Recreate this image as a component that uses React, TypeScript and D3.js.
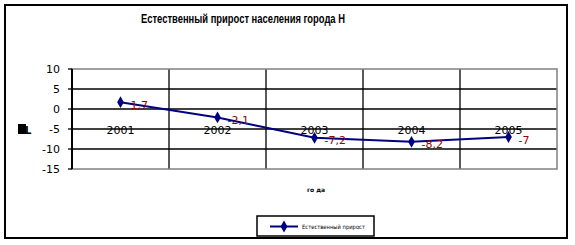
import React from "react";
import * as d3 from "d3";

const categories = ["2001", "2002", "2003", "2004", "2005"];
const values = [1.7, -2.1, -7.2, -8.2, -7];
const valueLabels = ["1,7", "-2,1", "-7,2", "-8,2", "-7"];
const yTicks = [10, 5, 0, -5, -10, -15];
const title = "Естественный прирост населения города Н";
const xTitle = "го да";
const seriesName = "Естественный прирост";

export default function App() {
  const W = 575, H = 245;
  const left = 72, right = 557, top = 69, bottom = 169;
  const x = d3.scaleBand<string>().domain(categories).range([left, right]).padding(0);
  const y = d3.scaleLinear().domain([-15, 10]).range([bottom, top]);
  const cx = (c: string) => (x(c) as number) + x.bandwidth() / 2;
  const line = d3
    .line<number>()
    .x((_, i) => cx(categories[i]))
    .y((v) => y(v));
  const diamond = d3.symbol().type(d3.symbolDiamond).size(40)();
  const font = "'DejaVu Sans', sans-serif";
  return (
    <svg
      width={W}
      height={H}
      style={{ position: "absolute", left: 0, top: 0, background: "#fff" }}
    >
      <rect x={0} y={0} width={W} height={H} fill="#fff" />
      <rect x={5} y={5} width={562} height={233} fill="none" stroke="#000" strokeWidth={2} />
      <text
        x={141}
        y={23}
        textLength={204}
        lengthAdjust="spacingAndGlyphs"
        fontFamily="'Liberation Sans Narrow', 'Liberation Sans', sans-serif"
        fontWeight="bold"
        fontSize={12}
      >
        {title}
      </text>
      {/* horizontal grid */}
      {yTicks
        .filter((t) => t !== 10 && t !== -15)
        .map((t) => (
          <line key={t} x1={left} x2={right} y1={y(t)} y2={y(t)} stroke="#000" strokeWidth={1.3} />
        ))}
      {/* vertical grid */}
      {categories.slice(1).map((c) => (
        <line key={c} x1={x(c)} x2={x(c)} y1={top} y2={bottom} stroke="#000" strokeWidth={1.3} />
      ))}
      <rect x={left} y={top} width={right - left} height={bottom - top} fill="none" stroke="#808080" strokeWidth={1.5} />
      <line x1={left} x2={left} y1={top} y2={bottom} stroke="#000" strokeWidth={2} />
      {yTicks.map((t) => (
        <g key={t}>
          <line x1={left - 4} x2={left} y1={y(t)} y2={y(t)} stroke="#000" strokeWidth={1.3} />
          <text x={60} y={y(t)} dy="0.35em" textAnchor="end" fontFamily={font} fontSize={11} fill="#000">
            {t}
          </text>
        </g>
      ))}
      {categories.map((c) => (
        <text key={c} x={cx(c)} y={134} textAnchor="middle" fontFamily={font} fontSize={11} fill="#000">
          {c}
        </text>
      ))}
      <path d={line(values) || ""} fill="none" stroke="#000080" strokeWidth={2} />
      {values.map((v, i) => (
        <path key={i} d={diamond || ""} transform={`translate(${cx(categories[i])},${y(v)})`} fill="#000080" />
      ))}
      {values.map((v, i) => (
        <text
          key={"l" + i}
          x={cx(categories[i]) + 10}
          y={y(v) + 6.5}
          fontFamily={font}
          fontSize={11}
          fill="#990000"
        >
          {valueLabels[i]}
        </text>
      ))}
      {/* y axis title (garbled glyph) */}
      <rect x={18} y={124} width={8} height={10} fill="#000" />
      <text x={25} y={134} fontFamily={font} fontSize={10} fontWeight="bold" fill="#000">L</text>
      <text x={316} y={192} textAnchor="middle" fontFamily={font} fontSize={6} fontWeight="bold" fill="#000">
        {xTitle}
      </text>
      {/* legend */}
      <rect x={257} y={216} width={117} height={20} fill="#fff" stroke="#000" strokeWidth={1.5} />
      <line x1={270} x2={298} y1={226.5} y2={226.5} stroke="#000080" strokeWidth={2} />
      <path d={diamond || ""} transform="translate(284,226.5)" fill="#000080" />
      <text
        x={302}
        y={228.5}
        textLength={63}
        lengthAdjust="spacingAndGlyphs"
        fontFamily={font}
        fontSize={6}
        fill="#000"
      >
        {seriesName}
      </text>
    </svg>
  );
}
